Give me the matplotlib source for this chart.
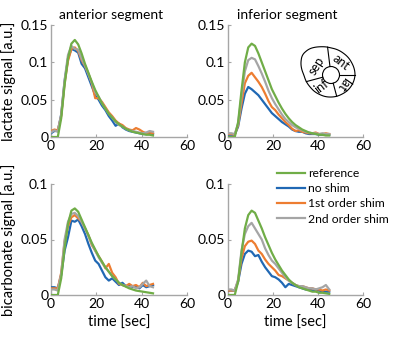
import numpy as np
import matplotlib
matplotlib.use('Agg')
import matplotlib.pyplot as plt
from matplotlib.patches import Polygon, Circle

plt.rcParams['font.family'] = ['Lato', 'DejaVu Sans']
plt.rcParams['font.size'] = 10

# ---------------- DATA ----------------
time = np.arange(0, 45.1, 1.5)
series_names = ['reference', 'no shim', '1st order shim', '2nd order shim']
colors = ['#70ad47', '#2068b4', '#ed7d31', '#a5a5a5']

# lactate, anterior segment (x1e-3)
lac_ant_ref = [0, 0, 0, 25, 70, 105, 125, 130, 124, 112, 98, 86, 74, 63, 54, 45, 38, 31, 26, 21, 17, 14, 11, 9, 7, 6, 5, 4, 3, 3, 2]
lac_ant_none = [5, 8, 8, 30, 75, 105, 118, 116, 113, 98, 92, 80, 68, 56, 50, 42, 36, 28, 22, 15, 18, 13, 10, 8, 7, 6, 5, 4, 4, 5, 4]
lac_ant_1st = [8, 10, 9, 28, 72, 102, 118, 120, 115, 103, 95, 85, 72, 52, 52, 47, 40, 33, 28, 22, 18, 16, 12, 10, 9, 12, 10, 7, 5, 6, 5]
lac_ant_2nd = [6, 9, 7, 30, 76, 110, 122, 118, 117, 105, 96, 84, 73, 60, 54, 45, 38, 31, 26, 20, 16, 14, 11, 9, 8, 7, 6, 5, 6, 8, 7]

# lactate, inferior segment
lac_inf_ref = [0, 0, 0, 20, 62, 100, 120, 125, 122, 112, 100, 88, 76, 64, 55, 46, 38, 31, 25, 20, 16, 13, 10, 8, 6, 5, 4, 3, 3, 2, 2]
lac_inf_none = [3, 3, 3, 14, 38, 58, 67, 64, 60, 56, 50, 44, 38, 32, 28, 24, 20, 17, 14, 10, 8, 7, 7, 5, 4, 4, 4, 3, 3, 3, 3]
lac_inf_1st = [4, 4, 3, 16, 45, 72, 82, 86, 80, 74, 67, 58, 48, 40, 36, 30, 25, 20, 16, 11, 8, 9, 7, 6, 5, 5, 6, 4, 4, 5, 4]
lac_inf_2nd = [5, 5, 4, 18, 55, 88, 103, 106, 104, 95, 85, 74, 62, 52, 44, 37, 30, 24, 20, 16, 13, 11, 9, 7, 6, 5, 5, 4, 5, 4, 4]

# bicarbonate, anterior segment
bic_ant_ref = [0, 0, 0, 15, 42, 64, 76, 78, 75, 68, 61, 54, 47, 41, 35, 30, 25, 21, 17, 14, 11, 9, 7.5, 6, 5, 4, 3.5, 3, 2.5, 2, 1.5]
bic_ant_none = [7, 7, 6, 18, 40, 52, 67, 66, 68, 62, 55, 46, 38, 31, 28, 22, 16, 13, 15, 12, 9, 11, 8, 9, 7, 8, 6, 9, 7, 8, 9]
bic_ant_1st = [6, 6, 6, 20, 48, 62, 70, 72, 69, 66, 60, 54, 45, 40, 35, 30, 24, 28, 20, 16, 10, 9, 8, 10, 8, 9, 7, 11, 8, 9, 10]
bic_ant_2nd = [5, 5, 4, 19, 50, 66, 73, 74, 71, 66, 60, 53, 46, 40, 34, 29, 25, 21, 17, 14, 11, 9, 8, 7, 8, 6, 7, 10, 13, 8, 7]

# bicarbonate, inferior segment
bic_inf_ref = [0, 0, 0, 12, 38, 60, 72, 76, 74, 67, 60, 52, 45, 38, 32, 27, 22, 18, 14, 11, 9, 7, 6, 5, 4, 3, 3, 2, 2, 1.5, 1]
bic_inf_none = [4, 4, 4, 12, 28, 37, 40, 39, 35, 36, 30, 25, 21, 17, 16, 14, 11, 7, 10, 9, 8, 7, 6, 5, 5, 4, 4, 4, 3, 3, 3]
bic_inf_1st = [4, 4, 4, 13, 33, 44, 48, 49, 46, 40, 37, 32, 28, 25, 22, 18, 17, 15, 13, 11, 9, 8, 8, 7, 6, 6, 5, 5, 4, 5, 4]
bic_inf_2nd = [5, 5, 4, 14, 40, 55, 62, 65, 60, 55, 50, 42, 36, 31, 28, 24, 20, 16, 13, 11, 9, 8, 8, 7, 6, 6, 5, 6, 7, 9, 5]

panels = [
    [lac_ant_ref, lac_ant_none, lac_ant_1st, lac_ant_2nd],
    [lac_inf_ref, lac_inf_none, lac_inf_1st, lac_inf_2nd],
    [bic_ant_ref, bic_ant_none, bic_ant_1st, bic_ant_2nd],
    [bic_inf_ref, bic_inf_none, bic_inf_1st, bic_inf_2nd],
]
titles = ['anterior segment', 'inferior segment', None, None]
ylabels = ['lactate signal [a.u.]', None, 'bicarbonate signal [a.u.]', None]
ymax = [0.15, 0.15, 0.1, 0.1]
yticks_top = [0, 0.05, 0.1, 0.15]
yticklabels_top = ['0', '0.05', '0.1', '0.15']
yticks_bot = [0, 0.05, 0.1]
yticklabels_bot = ['0', '0.05', '0.1']
xticks = [0, 20, 40, 60]

# heart segment sketch
seg_labels = ['sep', 'ant', 'lat', 'inf']

# ---------------- FIGURE ----------------
W, H = 400, 339
fig = plt.figure(figsize=(W / 100, H / 100), dpi=100)

def px_axes(x0, y0, x1, y1, **kw):
    return fig.add_axes([x0 / W, 1 - y1 / H, (x1 - x0) / W, (y1 - y0) / H], **kw)

boxes = [(51, 25, 187, 137), (228, 25, 363, 137), (51, 184, 187, 295), (228, 184, 363, 295)]
axes = []
for i, box in enumerate(boxes):
    ax = px_axes(*box)
    for j, vals in enumerate(panels[i]):
        ax.plot(time, np.array(vals) / 1000.0, color=colors[j], lw=1.6,
                label=series_names[j], zorder=5 if j == 0 else 3)
    ax.set_xlim(0, 60)
    ax.set_ylim(0, ymax[i])
    ax.set_xticks(xticks)
    if i < 2:
        ax.set_yticks(yticks_top)
        ax.set_yticklabels(yticklabels_top)
    else:
        ax.set_yticks(yticks_bot)
        ax.set_yticklabels(yticklabels_bot)
        ax.set_xlabel('time [sec]', labelpad=4, fontsize=10.5)
    for s in ['top', 'right']:
        ax.spines[s].set_visible(False)
    for s in ['left', 'bottom']:
        ax.spines[s].set_color('#a6a6a6')
        ax.spines[s].set_linewidth(1.0)
    ax.tick_params(direction='in', length=2, color='#a6a6a6', labelsize=10, pad=2)
    if titles[i]:
        ax.set_title(titles[i], fontsize=10, x=0.44, pad=4)
    if ylabels[i]:
        ax.set_ylabel(ylabels[i], fontsize=10.5)
        ax.yaxis.set_label_coords(-0.255, 0.5)
    axes.append(ax)

# legend
handles, labels = axes[3].get_legend_handles_labels()
fig.legend(handles, labels, loc='upper left', bbox_to_anchor=(277 / W, 1 - 168 / H),
           frameon=False, borderpad=0, borderaxespad=0, handlelength=2.3,
           handletextpad=0.3, labelspacing=0.35, fontsize=8.7)

# heart segment diagram (axes in pixel units, y up)
hx = px_axes(295, 40, 365, 105)
hx.set_xlim(0, 70)
hx.set_ylim(0, 65)
hx.set_aspect('equal')
hx.axis('off')
cx, cy = 36, 30
r_in = 8.5
ang_k = np.array([0, 30, 60, 90, 110, 130, 145, 160, 180, 210, 240, 270, 300, 330, 360])
rad_k = np.array([24, 24, 25, 27, 30, 34, 35, 32, 27, 24, 22.5, 22, 22, 23, 24])
th = np.linspace(0, 360, 361)
rr = np.interp(th, ang_k, rad_k)
rr = np.convolve(np.r_[rr[-15:], rr, rr[:15]], np.ones(11) / 11, mode='same')[15:-15]

def outline_r(a):
    return np.interp(a % 360, th, rr)

outline = np.c_[cx + rr * np.cos(np.radians(th)), cy + rr * np.sin(np.radians(th))]
hx.add_patch(Polygon(outline, closed=True, fill=False, lw=0.8, ec='k'))
hx.add_patch(Circle((cx, cy), r_in, fill=False, lw=0.8, ec='k'))
for a in [97, 0, -75, 195]:
    t = np.radians(a)
    ro = outline_r(a)
    hx.plot([cx + r_in * np.cos(t), cx + ro * np.cos(t)],
            [cy + r_in * np.sin(t), cy + ro * np.sin(t)], color='k', lw=0.8)
seg_angles = [146, 52, -36, -128]
seg_r = [17, 16.5, 15, 15]
seg_rot = [58, -38, -125, 38]
for lab, a, r, rot in zip(seg_labels, seg_angles, seg_r, seg_rot):
    t = np.radians(a)
    hx.text(cx + r * np.cos(t), cy + r * np.sin(t), lab, rotation=rot,
            ha='center', va='center', fontsize=9, rotation_mode='anchor')

fig.savefig('out.png', dpi=100)
